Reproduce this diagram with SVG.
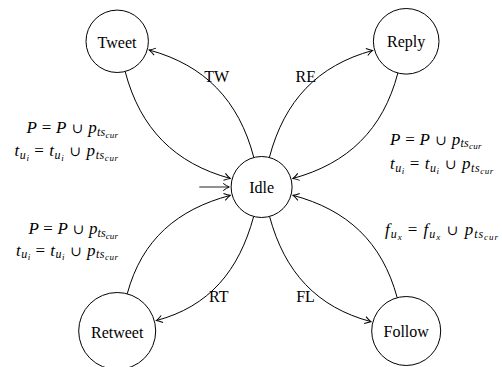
<svg xmlns="http://www.w3.org/2000/svg" width="502" height="367" viewBox="0 0 502 367">
<defs>
<marker id="arr" markerUnits="userSpaceOnUse" markerWidth="10" markerHeight="10" viewBox="-7 -5 8 10" refX="0" refY="0" orient="auto" overflow="visible">
<path d="M-6,-3.6 Q-2.5,-1 0,0 Q-2.5,1 -6,3.6" fill="none" stroke="#000" stroke-width="1"/>
</marker>
<style>
.node circle{fill:#fff;stroke:#000;stroke-width:1}
.node text{font-family:"Liberation Serif","Times New Roman",serif;font-size:16px;text-anchor:middle;fill:#000}
.edge{fill:none;stroke:#000;stroke-width:1;marker-end:url(#arr)}
.init{fill:none;stroke:#555;stroke-width:1.3;marker-end:url(#arr)}
.lbl{font-family:"Liberation Serif","Times New Roman",serif;font-size:16px;text-anchor:middle;fill:#000}
text.m{font-family:"Liberation Serif","Times New Roman",serif;font-size:17px;font-style:italic;fill:#000}
.r{font-style:normal}
.u{font-style:normal;font-family:"DejaVu Serif",serif;font-size:14px}
.s1{font-size:12px}
.s2{font-size:9px}
</style>
</defs>
<g id="connectors">
<path class="edge" d="M253.84,157.5 C238.73,100.05 204.6,65.14 149.23,50.04"/>
<path class="edge" d="M125.14,71.47 C140.25,128.92 174.88,163.34 230.25,178.44"/>
<path class="edge" d="M269.36,157.5 C284.34,100.54 317.74,65.43 372.63,50.46"/>
<path class="edge" d="M397.86,73.02 C382.88,129.98 347.84,163.47 292.95,178.45"/>
<path class="edge" d="M253.66,216.45 C238.96,271.01 209,306.54 156.34,320.57"/>
<path class="edge" d="M127.22,293.82 C141.92,239.26 177.53,209.4 230.2,195.37"/>
<path class="edge" d="M269.55,216.44 C284.65,272.34 316.9,307.27 370.92,321.63"/>
<path class="edge" d="M397.2,297.69 C382.1,241.79 347.04,209.7 293.01,195.35"/>
<path class="init" d="M199.3,187 L229.2,187"/>
<text class="lbl" x="216.7" y="81.7">TW</text>
<text class="lbl" x="305.8" y="81.7">RE</text>
<text class="lbl" x="218.7" y="301.7">RT</text>
<text class="lbl" x="305.5" y="301.7">FL</text>
</g>
<g id="node-idle" class="node"><circle cx="261.6" cy="187" r="30.5"/><text x="261.6" y="193">Idle</text></g>
<g id="node-tweet" class="node"><circle cx="117.2" cy="41.3" r="31.2"/><text x="117" y="47.6">Tweet</text></g>
<g id="node-reply" class="node"><circle cx="406.2" cy="41.3" r="32.8"/><text x="406.2" y="47.3">Reply</text></g>
<g id="node-retweet" class="node"><circle cx="117.2" cy="331" r="38.5"/><text x="117.2" y="337.5">Retweet</text></g>
<g id="node-follow" class="node"><circle cx="406.2" cy="331" r="34.5"/><text x="406.2" y="337.3">Follow</text></g>
<g id="annotations">
<text class="m" x="26.5" y="133.3" textLength="91.5" lengthAdjust="spacing">P<tspan class="r"> = </tspan>P<tspan class="u"> ∪ </tspan>p<tspan class="s1" dy="2.5">ts</tspan><tspan class="s2" dy="2">cur</tspan></text>
<text class="m" x="14.5" y="156" textLength="103.5" lengthAdjust="spacing">t<tspan class="s1" dy="2.5">u</tspan><tspan class="s2" dy="2">i</tspan><tspan class="r" dy="-4.5"> = </tspan>t<tspan class="s1" dy="2.5">u</tspan><tspan class="s2" dy="2">i</tspan><tspan class="u" dy="-4.5"> ∪ </tspan>p<tspan class="s1" dy="2.5">ts</tspan><tspan class="s2" dy="2">cur</tspan></text>
<text class="m" x="28.5" y="234" textLength="89.5" lengthAdjust="spacing">P<tspan class="r"> = </tspan>P<tspan class="u"> ∪ </tspan>p<tspan class="s1" dy="2.5">ts</tspan><tspan class="s2" dy="2">cur</tspan></text>
<text class="m" x="16" y="255.5" textLength="102" lengthAdjust="spacing">t<tspan class="s1" dy="2.5">u</tspan><tspan class="s2" dy="2">i</tspan><tspan class="r" dy="-4.5"> = </tspan>t<tspan class="s1" dy="2.5">u</tspan><tspan class="s2" dy="2">i</tspan><tspan class="u" dy="-4.5"> ∪ </tspan>p<tspan class="s1" dy="2.5">ts</tspan><tspan class="s2" dy="2">cur</tspan></text>
<text class="m" x="390" y="144.5" textLength="91.5" lengthAdjust="spacing">P<tspan class="r"> = </tspan>P<tspan class="u"> ∪ </tspan>p<tspan class="s1" dy="2.5">ts</tspan><tspan class="s2" dy="2">cur</tspan></text>
<text class="m" x="390" y="169" textLength="103.3" lengthAdjust="spacing">t<tspan class="s1" dy="2.5">u</tspan><tspan class="s2" dy="2">i</tspan><tspan class="r" dy="-4.5"> = </tspan>t<tspan class="s1" dy="2.5">u</tspan><tspan class="s2" dy="2">i</tspan><tspan class="u" dy="-4.5"> ∪ </tspan>p<tspan class="s1" dy="2.5">ts</tspan><tspan class="s2" dy="2">cur</tspan></text>
<text class="m" x="385" y="235" textLength="113" lengthAdjust="spacing">f<tspan class="s1" dy="2.5">u</tspan><tspan class="s2" dy="2">x</tspan><tspan class="r" dy="-4.5"> = </tspan>f<tspan class="s1" dy="2.5">u</tspan><tspan class="s2" dy="2">x</tspan><tspan class="u" dy="-4.5"> ∪ </tspan>p<tspan class="s1" dy="2.5">ts</tspan><tspan class="s2" dy="2">cur</tspan></text>
</g>
</svg>
